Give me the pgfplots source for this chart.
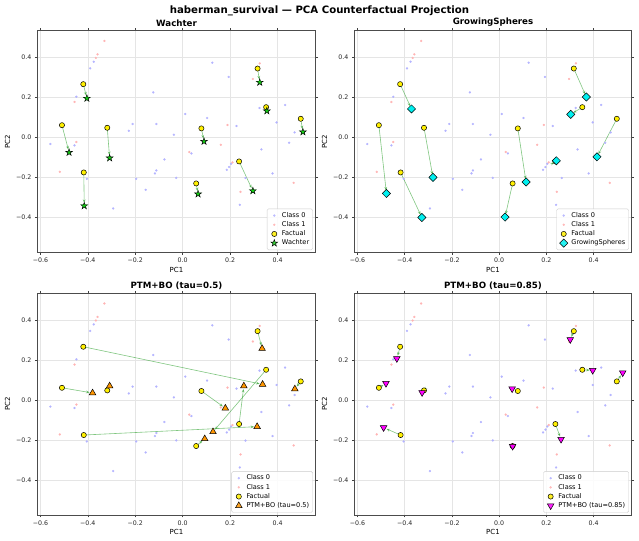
\documentclass[border=0pt]{standalone}
\usepackage{pgfplots}
\pgfplotsset{compat=1.18}
\usepackage{pgfplotstable}
\usepackage{fontspec}
\setmainfont{DejaVu Sans}
\usetikzlibrary{arrows.meta}

\definecolor{cz}{RGB}{180,180,255}
\definecolor{co}{RGB}{255,180,180}
\definecolor{fact}{RGB}{255,240,0}
\definecolor{starc}{RGB}{20,205,20}
\definecolor{diac}{RGB}{0,240,240}
\definecolor{tric}{RGB}{255,150,0}
\definecolor{magc}{RGB}{255,0,255}
\definecolor{arrc}{RGB}{44,160,44}

\pgfdeclareplotmark{fstar}{%
  \pgfpathmoveto{\pgfpointpolar{90}{\pgfplotmarksize}}%
  \pgfpathlineto{\pgfpointpolar{126}{0.382\pgfplotmarksize}}%
  \pgfpathlineto{\pgfpointpolar{162}{\pgfplotmarksize}}%
  \pgfpathlineto{\pgfpointpolar{198}{0.382\pgfplotmarksize}}%
  \pgfpathlineto{\pgfpointpolar{234}{\pgfplotmarksize}}%
  \pgfpathlineto{\pgfpointpolar{270}{0.382\pgfplotmarksize}}%
  \pgfpathlineto{\pgfpointpolar{306}{\pgfplotmarksize}}%
  \pgfpathlineto{\pgfpointpolar{342}{0.382\pgfplotmarksize}}%
  \pgfpathlineto{\pgfpointpolar{18}{\pgfplotmarksize}}%
  \pgfpathlineto{\pgfpointpolar{54}{0.382\pgfplotmarksize}}%
  \pgfpathclose
  \pgfusepathqfillstroke}

\pgfplotstableread{
x y
-0.558 -0.033
-0.456 -0.040
-0.448 0.203
-0.390 0.345
-0.375 0.378
-0.404 -0.207
-0.293 -0.355
-0.227 0.033
-0.211 0.067
-0.196 -0.207
-0.156 -0.262
-0.124 0.225
-0.117 -0.180
-0.111 0.067
-0.111 -0.165
-0.077 -0.110
-0.037 0.013
-0.027 -0.202
0.011 0.117
0.037 -0.080
0.103 0.097
0.125 0.373
0.194 0.302
0.227 0.057
0.186 -0.162
0.196 -0.148
0.204 -0.132
0.241 -0.337
0.265 -0.203
0.324 0.147
0.332 -0.060
0.379 -0.180
0.396 0.075
0.432 0.162
0.449 -0.027
0.472 0.025
}\bgzero

\pgfplotstableread{
x y
-0.330 0.482
-0.359 0.415
-0.366 0.397
-0.456 0.177
-0.448 -0.023
-0.518 -0.172
0.028 -0.073
0.161 -0.037
0.189 0.062
0.210 -0.125
0.244 -0.272
0.296 0.292
0.325 0.370
0.468 -0.227
}\bgone

\pgfplotstableread{
x y
-0.419 0.266
-0.509 0.061
-0.318 0.048
-0.417 -0.175
0.079 0.045
0.057 -0.230
0.238 -0.120
0.316 0.344
0.352 0.151
0.498 0.093
}\facts

\pgfplotstableread{
x y
-0.404 0.195
-0.479 -0.075
-0.308 -0.103
-0.415 -0.342
0.090 -0.020
0.065 -0.283
0.296 -0.267
0.325 0.275
0.355 0.132
0.507 0.027
}\wachter

\pgfplotstableread{
x y
-0.371 0.142
-0.477 -0.280
-0.280 -0.200
-0.327 -0.400
0.114 -0.223
0.025 -0.398
0.242 -0.117
0.369 0.202
0.303 0.115
0.414 -0.097
}\gs

\pgfplotstableread{
x y
0.337 0.078
-0.380 0.035
-0.308 0.070
0.314 -0.133
0.180 -0.041
0.093 -0.194
0.258 0.070
0.335 0.257
0.128 -0.159
0.473 0.055
}\ptmA

\pgfplotstableread{
x y
-0.433 0.207
-0.479 0.083
-0.326 0.037
-0.489 -0.138
0.055 0.056
0.057 -0.231
0.262 -0.196
0.301 0.302
0.396 0.148
0.523 0.136
}\ptmB

\newcommand{\arr}[4]{\addplot[arrc, opacity=0.6, line width=0.6bp, -{Stealth[length=3.5bp,width=2.8bp]}, shorten >=3bp, forget plot] coordinates {(#1,#2) (#3,#4)};}

\pgfplotsset{
  myax/.style={
    width=278.4bp, height=221.6bp, scale only axis,
    anchor=north west,
    xmin=-0.613, xmax=0.561, ymin=-0.574, ymax=0.533,
    xtick={-0.6,-0.4,-0.2,0,0.2,0.4},
    xticklabels={−0.6,−0.4,−0.2,0.0,0.2,0.4},
    ytick={-0.4,-0.2,0,0.2,0.4},
    yticklabels={−0.4,−0.2,0.0,0.2,0.4},
    tick label style={font=\fontsize{6.3}{7}\selectfont, text=black!85},
    tick align=outside, major tick length=2.5bp,
    tick style={black!75, line width=0.5bp},
    axis line style={black!70, line width=0.6bp},
    grid=major, grid style={black!10, line width=0.4bp},
    xlabel={PC1}, ylabel={PC2},
    label style={font=\fontsize{7}{8}\selectfont},
    xlabel style={yshift=3bp},
    ylabel style={yshift=-1bp},
    title style={font=\bfseries\fontsize{8.7}{10}\selectfont, yshift=-5.5bp},
    legend cell align=left,
    legend style={at={(0.99,0.01)}, anchor=south east, font=\fontsize{6.6}{7.8}\selectfont,
      draw=black!20, rounded corners=1.5bp, fill=white, fill opacity=0.85, text opacity=1,
      inner sep=2bp, row sep=-0.3bp, nodes={inner sep=1.5bp}},
    clip=false,
  },
  sc/.style={only marks, legend image code/.code={\path (0bp,0bp) (11bp,0bp); \draw[mark repeat=2,mark phase=2,##1] plot coordinates {(0bp,0bp)(5bp,0bp)(10bp,0bp)};}},
  bgz/.style={sc, mark=*, mark size=1.05bp, mark options={draw=cz, fill=cz, line width=0.2bp}},
  bgo/.style={sc, mark=*, mark size=1.05bp, mark options={draw=co, fill=co, line width=0.2bp}},
  fac/.style={sc, mark=*, mark size=2.6bp, mark options={draw=black, fill=fact, line width=0.5bp}},
}

\begin{document}
\begin{tikzpicture}
\path[use as bounding box] (0bp,0bp) rectangle (639bp,-541bp);
\node[font=\bfseries\fontsize{10.2}{12}\selectfont] at (319.5bp,-10.5bp) {haberman\_survival — PCA Counterfactual Projection};

% ---------- Wachter
\begin{axis}[myax, at={(37.3bp,-30.7bp)}, title={Wachter}]
\addplot[bgz] table {\bgzero};
\addlegendentry{Class 0}
\addplot[bgo] table {\bgone};
\addlegendentry{Class 1}
\arr{-0.419}{0.266}{-0.404}{0.195}
\arr{-0.509}{0.061}{-0.479}{-0.075}
\arr{-0.318}{0.048}{-0.308}{-0.103}
\arr{-0.417}{-0.175}{-0.415}{-0.342}
\arr{0.079}{0.045}{0.090}{-0.020}
\arr{0.057}{-0.230}{0.065}{-0.283}
\arr{0.238}{-0.120}{0.296}{-0.267}
\arr{0.316}{0.344}{0.325}{0.275}
\arr{0.352}{0.151}{0.355}{0.132}
\arr{0.498}{0.093}{0.507}{0.027}
\addplot[fac] table {\facts};
\addlegendentry{Factual}
\addplot[sc, mark=fstar, mark size=3.6bp, mark options={draw=black, fill=starc, line width=0.45bp}] table {\wachter};
\addlegendentry{Wachter}
\end{axis}

% ---------- GrowingSpheres
\begin{axis}[myax, at={(354.3bp,-30.7bp)}, width=277.4bp, title={GrowingSpheres}]
\addplot[bgz] table {\bgzero};
\addlegendentry{Class 0}
\addplot[bgo] table {\bgone};
\addlegendentry{Class 1}
\arr{-0.419}{0.266}{-0.371}{0.142}
\arr{-0.509}{0.061}{-0.477}{-0.280}
\arr{-0.318}{0.048}{-0.280}{-0.200}
\arr{-0.417}{-0.175}{-0.327}{-0.400}
\arr{0.079}{0.045}{0.114}{-0.223}
\arr{0.057}{-0.230}{0.025}{-0.398}
\arr{0.238}{-0.120}{0.242}{-0.117}
\arr{0.316}{0.344}{0.369}{0.202}
\arr{0.352}{0.151}{0.303}{0.115}
\arr{0.498}{0.093}{0.414}{-0.097}
\addplot[fac] table {\facts};
\addlegendentry{Factual}
\addplot[sc, mark=square*, mark size=2.9bp, mark options={rotate=45, draw=black, fill=diac, line width=0.5bp}] table {\gs};
\addlegendentry{GrowingSpheres}
\end{axis}

% ---------- PTM+BO tau=0.5
\begin{axis}[myax, at={(37.3bp,-293.3bp)}, title={PTM+BO (tau=0.5)}]
\addplot[bgz] table {\bgzero};
\addlegendentry{Class 0}
\addplot[bgo] table {\bgone};
\addlegendentry{Class 1}
\arr{-0.419}{0.266}{0.337}{0.078}
\arr{-0.509}{0.061}{-0.380}{0.035}
\arr{-0.318}{0.048}{-0.308}{0.070}
\arr{-0.417}{-0.175}{0.314}{-0.133}
\arr{0.079}{0.045}{0.180}{-0.041}
\arr{0.057}{-0.230}{0.093}{-0.194}
\arr{0.238}{-0.120}{0.258}{0.070}
\arr{0.316}{0.344}{0.335}{0.257}
\arr{0.352}{0.151}{0.128}{-0.159}
\arr{0.498}{0.093}{0.473}{0.055}
\addplot[fac] table {\facts};
\addlegendentry{Factual}
\addplot[sc, mark=triangle*, mark size=3.8bp, mark options={draw=black, fill=tric, line width=0.5bp}] table {\ptmA};
\addlegendentry{PTM+BO (tau=0.5)}
\end{axis}

% ---------- PTM+BO tau=0.85
\begin{axis}[myax, at={(354.3bp,-293.3bp)}, width=277.4bp, title={PTM+BO (tau=0.85)}]
\addplot[bgz] table {\bgzero};
\addlegendentry{Class 0}
\addplot[bgo] table {\bgone};
\addlegendentry{Class 1}
\arr{-0.419}{0.266}{-0.433}{0.207}
\arr{-0.509}{0.061}{-0.479}{0.083}
\arr{-0.318}{0.048}{-0.326}{0.037}
\arr{-0.417}{-0.175}{-0.489}{-0.138}
\arr{0.079}{0.045}{0.055}{0.056}
\arr{0.238}{-0.120}{0.262}{-0.196}
\arr{0.316}{0.344}{0.301}{0.302}
\arr{0.352}{0.151}{0.396}{0.148}
\arr{0.498}{0.093}{0.523}{0.136}
\addplot[fac] table {\facts};
\addlegendentry{Factual}
\addplot[sc, mark=triangle*, mark size=3.8bp, mark options={rotate=180, draw=black, fill=magc, line width=0.5bp}] table {\ptmB};
\addlegendentry{PTM+BO (tau=0.85)}
\end{axis}
\end{tikzpicture}
\end{document}
